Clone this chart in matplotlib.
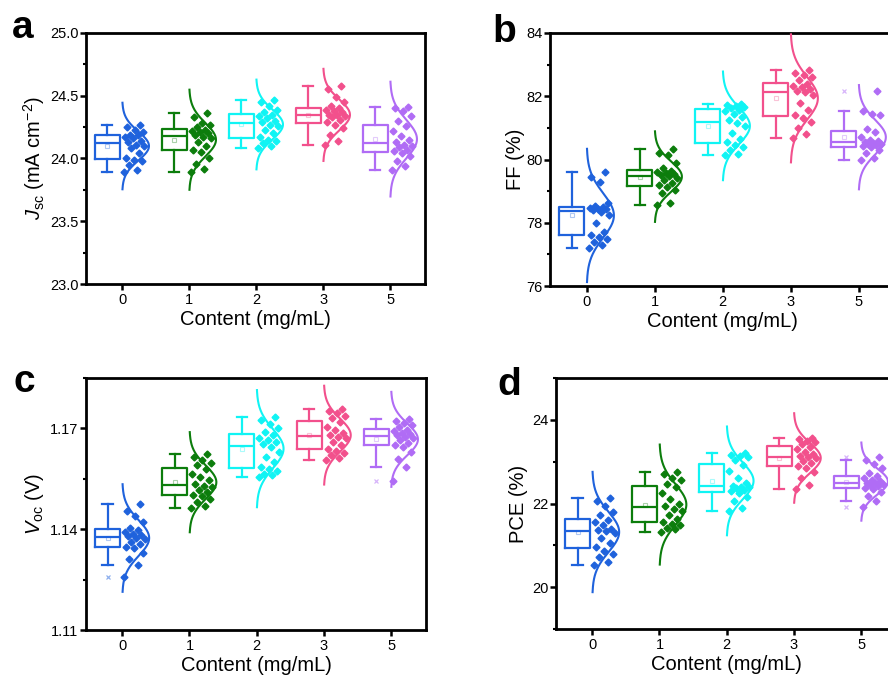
import numpy as np
import matplotlib
matplotlib.use("Agg")
import matplotlib.pyplot as plt
from matplotlib.ticker import MultipleLocator, FixedLocator, FormatStrFormatter

plt.rcParams['font.family'] = ['Liberation Sans', 'DejaVu Sans']
plt.rcParams['mathtext.fontset'] = 'custom'
plt.rcParams['mathtext.rm'] = 'Liberation Sans'
plt.rcParams['mathtext.it'] = 'Liberation Sans:italic'

# ---------------- data ----------------
categories = ['0', '1', '2', '3', '5']
colors = ['#1f62dc', '#0c7d0c', '#10f4f4', '#f2508c', '#b06cf5']

jsc_0 = [23.89, 23.91, 23.95, 23.98, 23.99, 24.00, 24.04, 24.08, 24.10, 24.11,
         24.13, 24.14, 24.16, 24.17, 24.19, 24.19, 24.21, 24.23, 24.25, 24.27]
jsc_1 = [23.89, 23.92, 23.96, 24.00, 24.05, 24.07, 24.10, 24.13, 24.16, 24.17,
         24.19, 24.20, 24.21, 24.22, 24.23, 24.25, 24.27, 24.28, 24.33, 24.36]
jsc_2 = [24.08, 24.10, 24.12, 24.14, 24.15, 24.17, 24.20, 24.23, 24.26, 24.27,
         24.29, 24.30, 24.32, 24.34, 24.35, 24.37, 24.39, 24.42, 24.45, 24.47]
jsc_3 = [24.11, 24.14, 24.19, 24.24, 24.27, 24.29, 24.31, 24.33, 24.34, 24.35,
         24.35, 24.37, 24.38, 24.39, 24.40, 24.42, 24.45, 24.49, 24.55, 24.58]
jsc_5 = [23.91, 23.94, 23.98, 24.02, 24.04, 24.06, 24.07, 24.09, 24.10, 24.11,
         24.13, 24.15, 24.18, 24.22, 24.26, 24.30, 24.34, 24.38, 24.40, 24.41]

ff_0 = [77.21, 77.30, 77.38, 77.50, 77.55, 77.62, 77.70, 78.00, 78.25, 78.35,
        78.41, 78.43, 78.45, 78.47, 78.49, 78.53, 78.62, 79.30, 79.45, 79.61]
ff_1 = [78.56, 78.62, 78.95, 79.05, 79.12, 79.18, 79.25, 79.35, 79.42, 79.47,
        79.51, 79.55, 79.58, 79.62, 79.65, 79.72, 79.90, 80.15, 80.20, 80.33]
ff_2 = [80.14, 80.18, 80.30, 80.38, 80.45, 80.55, 80.65, 80.85, 81.05, 81.15,
        81.25, 81.35, 81.45, 81.52, 81.57, 81.62, 81.65, 81.68, 81.72, 81.76]
ff_3 = [80.67, 80.80, 81.00, 81.20, 81.30, 81.40, 81.55, 81.80, 82.05, 82.12,
        82.18, 82.22, 82.28, 82.33, 82.38, 82.50, 82.62, 82.68, 82.75, 82.84]
ff_5 = [79.98, 80.05, 80.20, 80.30, 80.38, 80.42, 80.45, 80.48, 80.50, 80.52,
        80.56, 80.58, 80.62, 80.70, 80.88, 80.95, 81.40, 81.45, 81.52, 82.17]

voc_0 = [1.1257, 1.1292, 1.1310, 1.1330, 1.1343, 1.1348, 1.1355, 1.1362, 1.1370, 1.1375,
         1.1379, 1.1382, 1.1386, 1.1392, 1.1398, 1.1405, 1.1420, 1.1440, 1.1455, 1.1476]
voc_1 = [1.1463, 1.1470, 1.1480, 1.1490, 1.1498, 1.1503, 1.1510, 1.1518, 1.1525, 1.1530,
         1.1536, 1.1545, 1.1555, 1.1565, 1.1578, 1.1590, 1.1598, 1.1605, 1.1615, 1.1624]
voc_2 = [1.1555, 1.1560, 1.1565, 1.1572, 1.1578, 1.1585, 1.1600, 1.1615, 1.1630, 1.1645,
         1.1653, 1.1660, 1.1666, 1.1672, 1.1680, 1.1688, 1.1700, 1.1712, 1.1725, 1.1734]
voc_3 = [1.1605, 1.1612, 1.1620, 1.1628, 1.1633, 1.1640, 1.1650, 1.1660, 1.1670, 1.1675,
         1.1679, 1.1685, 1.1695, 1.1705, 1.1718, 1.1730, 1.1738, 1.1745, 1.1752, 1.1759]
voc_5 = [1.1543, 1.1585, 1.1610, 1.1630, 1.1645, 1.1652, 1.1658, 1.1665, 1.1670, 1.1675,
         1.1679, 1.1683, 1.1687, 1.1691, 1.1695, 1.1703, 1.1710, 1.1716, 1.1722, 1.1729]

pce_0 = [20.52, 20.60, 20.72, 20.80, 20.87, 20.95, 21.05, 21.18, 21.30, 21.34,
         21.36, 21.40, 21.48, 21.55, 21.60, 21.72, 21.80, 21.95, 22.05, 22.13]
pce_1 = [21.31, 21.38, 21.42, 21.48, 21.52, 21.56, 21.62, 21.72, 21.82, 21.88,
         21.94, 22.00, 22.10, 22.25, 22.40, 22.47, 22.55, 22.62, 22.70, 22.75]
pce_2 = [21.81, 21.90, 22.05, 22.15, 22.24, 22.30, 22.33, 22.36, 22.39, 22.40,
         22.42, 22.50, 22.62, 22.78, 22.92, 23.05, 23.10, 23.13, 23.16, 23.20]
pce_3 = [22.34, 22.45, 22.62, 22.75, 22.84, 22.90, 22.96, 23.02, 23.08, 23.10,
         23.14, 23.18, 23.24, 23.30, 23.36, 23.42, 23.47, 23.50, 23.53, 23.56]
pce_5 = [21.91, 22.05, 22.18, 22.28, 22.34, 22.38, 22.41, 22.44, 22.47, 22.48,
         22.50, 22.53, 22.56, 22.60, 22.65, 22.72, 22.85, 22.95, 23.05, 23.12]

# ---------------- figure ----------------
W, H = 888, 682
fig = plt.figure(figsize=(W / 100, H / 100), dpi=100)


def px_axes(left, top, right, bottom):
    return fig.add_axes([left / W, 1 - bottom / H, (right - left) / W, (bottom - top) / H])


def draw_panel(ax, groups, ylim, major, minor, fmt, ylabel, labelpad):
    for i, (vals, c) in enumerate(zip(groups, colors)):
        v = np.asarray(vals, dtype=float)
        ax.boxplot([v], positions=[i - 0.22], widths=0.37, whis=1.5,
                   showmeans=True, manage_ticks=False, capwidths=0.15,
                   boxprops=dict(color=c, lw=1.6),
                   whiskerprops=dict(color=c, lw=1.6),
                   capprops=dict(color=c, lw=1.6),
                   medianprops=dict(color=c, lw=1.6),
                   meanprops=dict(marker='s', ms=3, mfc='none', mec=c, mew=0.8, alpha=0.35),
                   flierprops=dict(marker='x', ms=3.5, mec=c, mew=0.9, alpha=0.5))
        n = len(v)
        jit = 0.03 + 0.32 * ((np.arange(n) * 0.618034) % 1.0)
        ax.plot(i + jit, v, ls='none', marker='D', ms=3.5, color=c, mec=c, zorder=3)
        m, s = v.mean(), v.std(ddof=1)
        yy = np.linspace(m - 3 * s, m + 3 * s, 200)
        ax.plot(i + 0.40 * np.exp(-0.5 * ((yy - m) / s) ** 2), yy, color=c, lw=1.5, zorder=3)

    ax.set_xlim(-0.54, 4.52)
    ax.set_ylim(*ylim)
    ax.set_xticks(range(len(categories)))
    ax.set_xticklabels(categories)
    ax.yaxis.set_major_locator(FixedLocator(major))
    ax.yaxis.set_minor_locator(MultipleLocator(minor))
    ax.yaxis.set_major_formatter(FormatStrFormatter(fmt))
    for sp in ax.spines.values():
        sp.set_linewidth(2.0)
    ax.tick_params(axis='both', which='major', direction='out', length=4, width=1.8,
                   labelsize=10.5, pad=1.5)
    ax.tick_params(axis='y', which='minor', direction='out', length=2.5, width=1.5)
    ax.tick_params(axis='x', which='minor', bottom=False)
    ax.tick_params(axis='x', which='major', pad=2.5)
    ax.set_xlabel('Content (mg/mL)', fontsize=14.5, labelpad=2)
    ax.set_ylabel(ylabel, fontsize=14.5, labelpad=labelpad)


ax_a = px_axes(86, 33, 425, 284)
draw_panel(ax_a, [jsc_0, jsc_1, jsc_2, jsc_3, jsc_5], (23.0, 25.0),
           [23.0, 23.5, 24.0, 24.5, 25.0], 0.25, '%.1f',
           r'$\mathit{J}_{\mathrm{sc}}$ (mA cm$^{-2}$)', 2)

ax_b = px_axes(550, 33, 894, 286)
draw_panel(ax_b, [ff_0, ff_1, ff_2, ff_3, ff_5], (76, 84),
           [76, 78, 80, 82, 84], 1, '%d', 'FF (%)', 1)

ax_c = px_axes(86, 378, 426, 630)
draw_panel(ax_c, [voc_0, voc_1, voc_2, voc_3, voc_5], (1.11, 1.185),
           [1.11, 1.14, 1.17], 0.015, '%.2f',
           r'$\mathit{V}_{\mathrm{oc}}$ (V)', 3)

ax_d = px_axes(556, 378, 896, 629)
draw_panel(ax_d, [pce_0, pce_1, pce_2, pce_3, pce_5], (19, 25),
           [20, 22, 24], 1, '%d', 'PCE (%)', 3)

for letter, x, y in [('a', 12, 38), ('b', 492, 42), ('c', 13, 392), ('d', 497, 395)]:
    fig.text(x / W, 1 - y / H, letter, fontsize=28, fontweight='bold',
             ha='left', va='baseline')

fig.savefig('out.png', dpi=100)
